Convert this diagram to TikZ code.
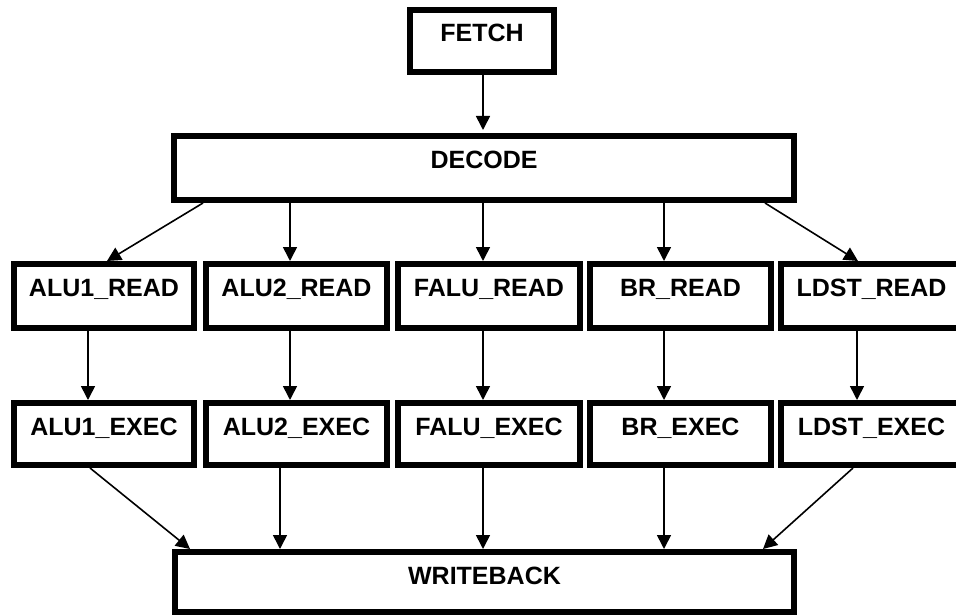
\documentclass[tikz,border=0pt]{standalone}
\usepackage{fontspec}
\setmainfont{Liberation Sans}
\usetikzlibrary{arrows.meta,calc}
\tikzset{
  stagebox/.style={draw=black, line width=6pt, fill=white, inner xsep=0pt, inner ysep=0pt,
    font=\fontsize{25}{30}\selectfont\bfseries, text height=32pt, anchor=center},
  rowbox/.style={stagebox, minimum height=64pt, text depth=32pt},
  execbox/.style={stagebox, minimum height=62pt, text depth=30pt},
  arr/.style={line width=1.6pt, -{Triangle[length=14pt,width=14pt]}}
}
\begin{document}
\begin{tikzpicture}[x=1pt,y=-1pt]
\useasboundingbox (0,0) rectangle (956,615);
% top
\node[execbox, minimum width=144pt] (fetch) at (482,41) {FETCH};
\node[rowbox, minimum width=620pt] (decode) at (484,168) {DECODE};
% read row
\node[rowbox, minimum width=180pt] (alu1r) at (104,296) {ALU1\_READ};
\node[rowbox, minimum width=181pt] (alu2r) at (296.5,296) {ALU2\_READ};
\node[rowbox, minimum width=182pt] (falur) at (489,296) {FALU\_READ};
\node[rowbox, minimum width=181pt] (brr) at (680.5,296) {BR\_READ};
\node[rowbox, minimum width=181pt] (ldstr) at (871.5,296) {LDST\_READ};
% exec row
\node[execbox, minimum width=180pt] (alu1e) at (104,434) {ALU1\_EXEC};
\node[execbox, minimum width=181pt] (alu2e) at (296.5,434) {ALU2\_EXEC};
\node[execbox, minimum width=182pt] (falue) at (489,434) {FALU\_EXEC};
\node[execbox, minimum width=181pt] (bre) at (680.5,434) {BR\_EXEC};
\node[execbox, minimum width=181pt] (ldste) at (871.5,434) {LDST\_EXEC};
% writeback
\node[stagebox, minimum width=619pt, minimum height=60pt, text depth=28pt] (wb) at (484.5,582) {WRITEBACK};
% fetch -> decode
\draw[arr] ([xshift=1pt]fetch.south) -- ([xshift=-1pt,yshift=3pt]decode.north);
% decode -> read
\draw[arr] ([xshift=-281pt]decode.south) -- ([xshift=3pt]alu1r.north);
\draw[arr] ([xshift=-194pt]decode.south) -- ([xshift=-6.5pt]alu2r.north);
\draw[arr] ([xshift=-1pt]decode.south) -- ([xshift=-6pt]falur.north);
\draw[arr] ([xshift=180pt]decode.south) -- ([xshift=-16.5pt]brr.north);
\draw[arr] ([xshift=281pt]decode.south) -- ([xshift=-13.5pt]ldstr.north);
% read -> exec
\draw[arr] ([xshift=-16pt]alu1r.south) -- ([xshift=-16pt]alu1e.north);
\draw[arr] ([xshift=-6.5pt]alu2r.south) -- ([xshift=-6.5pt]alu2e.north);
\draw[arr] ([xshift=-6pt]falur.south) -- ([xshift=-6pt]falue.north);
\draw[arr] ([xshift=-16.5pt]brr.south) -- ([xshift=-16.5pt]bre.north);
\draw[arr] ([xshift=-14.5pt]ldstr.south) -- ([xshift=-14.5pt]ldste.north);
% exec -> writeback
\draw[arr] ([xshift=-14pt]alu1e.south) -- ([xshift=-294.5pt]wb.north);
\draw[arr] ([xshift=-16.5pt]alu2e.south) -- ([xshift=-204.5pt]wb.north);
\draw[arr] ([xshift=-6pt]falue.south) -- ([xshift=-1.5pt]wb.north);
\draw[arr] ([xshift=-16.5pt]bre.south) -- ([xshift=179.5pt]wb.north);
\draw[arr] ([xshift=-18.5pt]ldste.south) -- ([xshift=278.5pt]wb.north);
\end{tikzpicture}
\end{document}
